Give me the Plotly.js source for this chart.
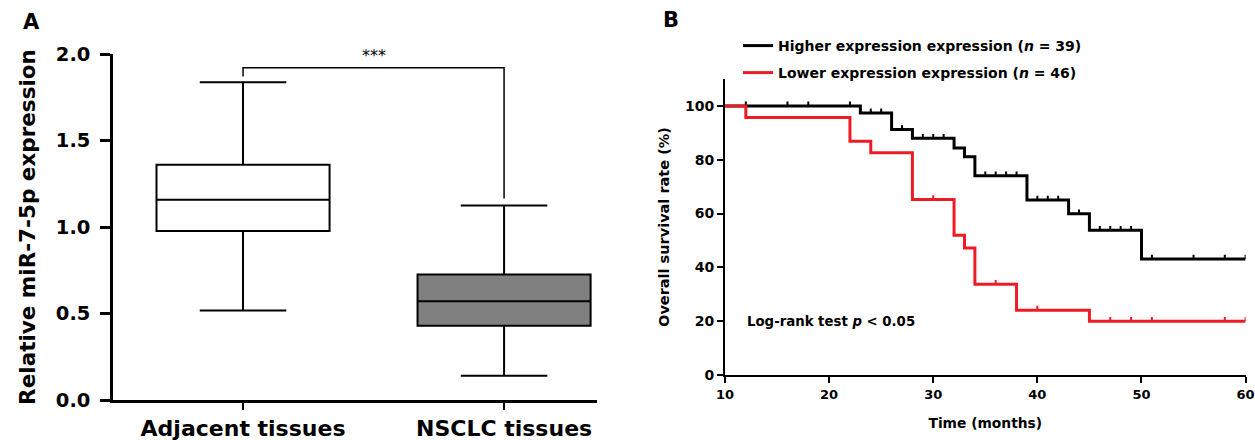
<!DOCTYPE html>
<html>
<head>
<meta charset="utf-8">
<script src="https://cdn.plot.ly/plotly-3.0.1.min.js"></script>
<style>html,body{margin:0;padding:0;background:#fff}#chart{width:1255px;height:440px}</style>
</head>
<body>
<div id="chart"></div>
<script>
// ---- Panel A: box plot data ----
const boxCategories = ['Adjacent tissues', 'NSCLC tissues'];
const boxLowerFence = [0.517, 0.14];
const boxQ1 = [0.977, 0.429];
const boxMedian = [1.158, 0.571];
const boxQ3 = [1.36, 0.725];
const boxUpperFence = [1.837, 1.125];
const bracketY = [1.87, 1.92, 1.92, 1.165];
const sigLabel = '***';
const yTicksA = [0, 0.5, 1.0, 1.5, 2.0];

// ---- Panel B: Kaplan-Meier data ----
const highTimes = [10, 23, 26, 28, 32, 33, 34, 39, 43, 45, 50, 60];
const highSurv = [100, 97.4, 91.2, 88.0, 84.4, 81.1, 74.0, 65.0, 59.9, 53.8, 43.1, 43.1];
const highCensor = [12, 16, 18, 22, 24, 25, 27, 29, 30, 31, 35, 36, 37, 38, 40, 41, 42, 44, 46, 47, 48, 49, 51, 55, 58, 60];
const lowTimes = [10, 12, 22, 24, 28, 32, 33, 34, 38, 45, 60];
const lowSurv = [100, 95.7, 86.9, 82.6, 65.2, 51.9, 47.2, 33.7, 24.1, 20.0, 20.0];
const lowCensor = [30, 36, 40, 47, 49, 51, 58, 60];
const highLabel = 'Higher expression expression (<i>n</i> = 39)';
const lowLabel = 'Lower expression expression (<i>n</i> = 46)';
const xTicksB = [10, 20, 30, 40, 50, 60];
const yTicksB = [0, 20, 40, 60, 80, 100];

const FONT = 'DejaVu Sans, Arial, sans-serif';
const RED = 'rgb(237,28,36)';

function stepAt(times, surv, t) {
  let v = surv[0];
  for (let i = 0; i < times.length; i++) { if (times[i] <= t) v = surv[i]; }
  return v;
}

const traces = [];
const fills = ['#ffffff', '#808080'];
for (let i = 0; i < boxCategories.length; i++) {
  traces.push({
    type: 'box', xaxis: 'x', yaxis: 'y',
    x: [boxCategories[i]], q1: [boxQ1[i]], median: [boxMedian[i]], q3: [boxQ3[i]],
    lowerfence: [boxLowerFence[i]], upperfence: [boxUpperFence[i]],
    width: 0.663, whiskerwidth: 0.5, boxpoints: false,
    fillcolor: fills[i], line: {color: '#000', width: 2}, showlegend: false, hoverinfo: 'skip'
  });
}
traces.push({
  type: 'scatter', mode: 'lines', xaxis: 'x', yaxis: 'y',
  x: [boxCategories[0], boxCategories[0], boxCategories[1], boxCategories[1]], y: bracketY,
  line: {color: '#000', width: 1.5}, showlegend: false, hoverinfo: 'skip'
});

// KM curves
traces.push({
  type: 'scatter', mode: 'lines', xaxis: 'x2', yaxis: 'y2',
  x: highTimes, y: highSurv, line: {color: '#000', width: 3, shape: 'hv'},
  name: highLabel, legend: 'legend', showlegend: true
});
traces.push({
  type: 'scatter', mode: 'markers', xaxis: 'x2', yaxis: 'y2',
  x: highCensor, y: highCensor.map(t => stepAt(highTimes, highSurv, t)),
  marker: {size: 1, color: 'rgba(0,0,0,0)'},
  error_y: {type: 'constant', value: 1.6, valueminus: 0, symmetric: false, width: 0, thickness: 2, color: '#000'},
  showlegend: false, hoverinfo: 'skip'
});
traces.push({
  type: 'scatter', mode: 'lines', xaxis: 'x2', yaxis: 'y2',
  x: lowTimes, y: lowSurv, line: {color: RED, width: 3, shape: 'hv'},
  name: lowLabel, legend: 'legend2', showlegend: true
});
traces.push({
  type: 'scatter', mode: 'markers', xaxis: 'x2', yaxis: 'y2',
  x: lowCensor, y: lowCensor.map(t => stepAt(lowTimes, lowSurv, t)),
  marker: {size: 1, color: 'rgba(0,0,0,0)'},
  error_y: {type: 'constant', value: 1.6, valueminus: 0, symmetric: false, width: 0, thickness: 2, color: RED},
  showlegend: false, hoverinfo: 'skip'
});

const W = 1255, H = 440;
const px = v => v / W, py = v => 1 - v / H;

const layout = {
  width: W, height: H,
  margin: {l: 0, r: 0, t: 0, b: 0},
  paper_bgcolor: '#fff', plot_bgcolor: '#fff',
  font: {family: FONT, color: '#000'},
  boxmode: 'overlay',
  xaxis: {
    domain: [px(113.3), px(597)], anchor: 'y', type: 'category',
    range: [-0.497, 1.356], showline: true, linewidth: 3, linecolor: '#000',
    ticks: 'outside', ticklen: 7, tickwidth: 2, tickcolor: '#000',
    showgrid: false, zeroline: false, automargin: false,
    tickfont: {family: FONT, size: 22, weight: 'bold', color: '#000'}
  },
  yaxis: {
    domain: [40 / H, 386 / H], anchor: 'x', range: [0, 2],
    tickvals: yTicksA, tickformat: '.1f',
    showline: true, linewidth: 3, linecolor: '#000',
    ticks: 'outside', ticklen: 10, tickwidth: 3, tickcolor: '#000', ticklabelstandoff: 6,
    showgrid: false, zeroline: false, automargin: false,
    tickfont: {family: FONT, size: 19.5, weight: 'bold', color: '#000'},
    title: {text: 'Relative miR-7-5p expression', font: {family: FONT, size: 21.5, weight: 'bold', color: '#000'}, standoff: 15}
  },
  xaxis2: {
    domain: [px(725), px(1245.6)], anchor: 'y2', range: [10, 60],
    tickvals: xTicksB, showline: true, linewidth: 2, linecolor: '#000',
    ticks: 'outside', ticklen: 6, tickwidth: 2, tickcolor: '#000',
    showgrid: false, zeroline: false, automargin: false,
    tickfont: {family: FONT, size: 13, weight: 'bold', color: '#000'},
    title: {text: 'Time (months)', font: {family: FONT, size: 13.8, weight: 'bold', color: '#000'}, standoff: 18}
  },
  yaxis2: {
    domain: [65 / H, 361 / H], anchor: 'x2', range: [0, 110],
    tickvals: yTicksB, showline: true, linewidth: 2, linecolor: '#000',
    ticks: 'outside', ticklen: 6, tickwidth: 2, tickcolor: '#000',
    showgrid: false, zeroline: false, automargin: false,
    tickfont: {family: FONT, size: 14, weight: 'bold', color: '#000'},
    title: {text: 'Overall survival rate (%)', font: {family: FONT, size: 14.5, weight: 'bold', color: '#000'}, standoff: 12}
  },
  legend: {
    x: px(738), y: py(46), xanchor: 'left', yanchor: 'middle',
    bgcolor: 'rgba(0,0,0,0)', font: {family: FONT, size: 14, weight: 'bold', color: '#000'}
  },
  legend2: {
    x: px(738), y: py(73), xanchor: 'left', yanchor: 'middle',
    bgcolor: 'rgba(0,0,0,0)', font: {family: FONT, size: 14, weight: 'bold', color: '#000'}
  },
  annotations: [
    {xref: 'x', yref: 'y', x: 0.5, y: bracketY[1], text: sigLabel, showarrow: false, yanchor: 'bottom', yshift: 1,
     font: {family: FONT, size: 16, color: '#000'}},
    {xref: 'paper', yref: 'paper', x: px(31), y: py(22), text: 'A', showarrow: false, xanchor: 'center', yanchor: 'middle',
     font: {family: FONT, size: 21, weight: 'bold', color: '#000'}},
    {xref: 'paper', yref: 'paper', x: px(671), y: py(20), text: 'B', showarrow: false, xanchor: 'center', yanchor: 'middle',
     font: {family: FONT, size: 21, weight: 'bold', color: '#000'}},
    {xref: 'paper', yref: 'paper', x: px(745), y: py(321), text: 'Log-rank test <i>p</i> < 0.05', showarrow: false,
     xanchor: 'left', yanchor: 'middle', font: {family: FONT, size: 13.3, weight: 'bold', color: '#000'}}
  ]
};

Plotly.newPlot('chart', traces, layout, {displayModeBar: false, staticPlot: true});
</script>
</body>
</html>
